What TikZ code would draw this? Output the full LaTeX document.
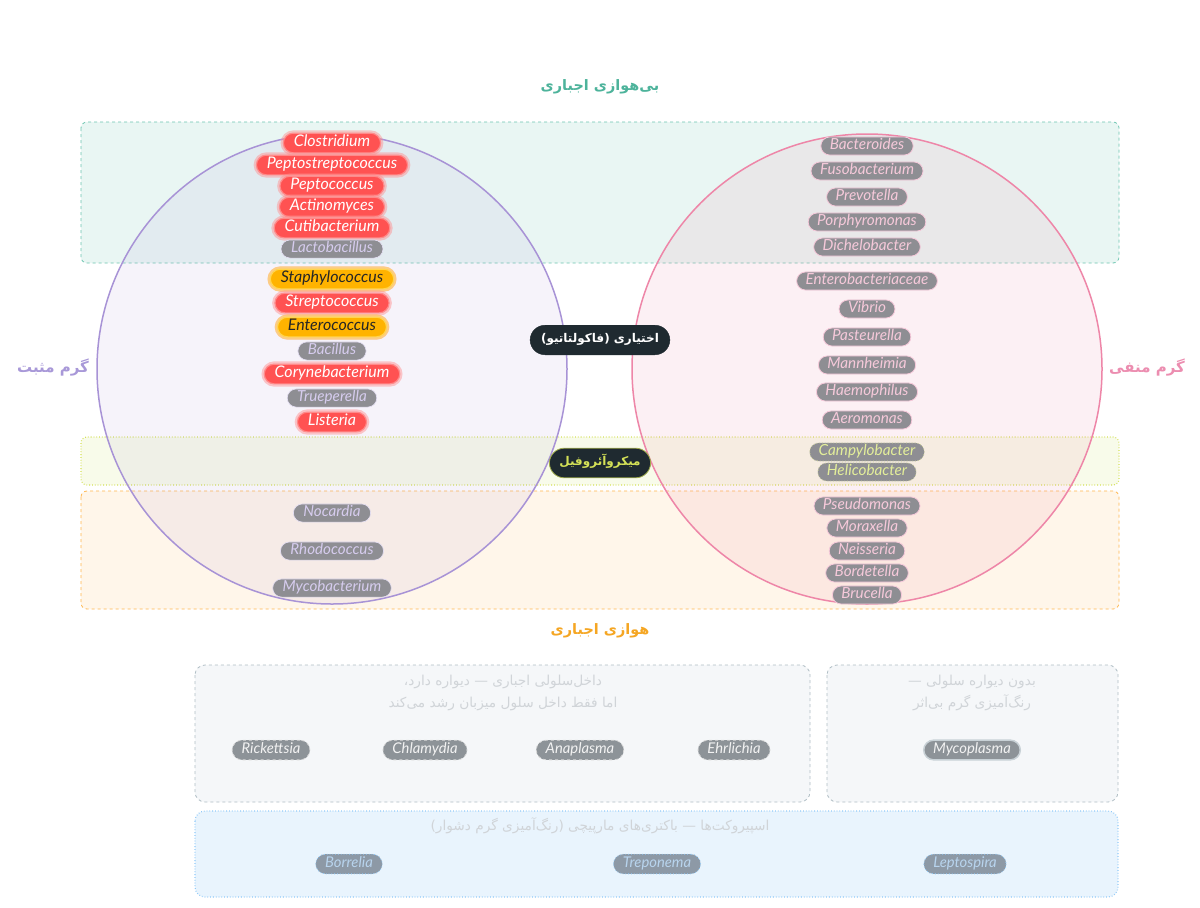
\documentclass[tikz,border=0pt]{standalone}
\usepackage{fontspec}
\TeXXeTstate=1
\setmainfont{Lato}
\newfontfamily\arabicfont[Script=Arabic]{DejaVu Sans}
\definecolor{teal1}{HTML}{6CC5B0}
\definecolor{tealbg}{HTML}{E9F6F3}
\definecolor{tealtxt}{HTML}{4DB39B}
\definecolor{ylw}{HTML}{D4E157}
\definecolor{ylwbg}{HTML}{F8FBEA}
\definecolor{org}{HTML}{FFB74D}
\definecolor{orgbg}{HTML}{FFF6EA}
\definecolor{orgtxt}{HTML}{F5A623}
\definecolor{purp}{HTML}{A893D6}
\definecolor{purptxt}{HTML}{A898D8}
\definecolor{pnk}{HTML}{EE86A8}
\definecolor{pnktxt}{HTML}{EC8DB0}
\definecolor{redp}{HTML}{FF5252}
\definecolor{redglow}{HTML}{FF8A8A}
\definecolor{amb}{HTML}{FFB300}
\definecolor{ambglow}{HTML}{FFD54F}
\definecolor{grayp}{HTML}{8E8E93}
\definecolor{lavtxt}{HTML}{D6CCEE}
\definecolor{pinktxt}{HTML}{F6C9DA}
\definecolor{limetxt}{HTML}{E3EE9A}
\definecolor{darkp}{HTML}{1F2A30}
\definecolor{boxbg}{HTML}{F5F7F9}
\definecolor{boxline}{HTML}{B0BEC5}
\definecolor{bluebg}{HTML}{E9F4FD}
\definecolor{blueline}{HTML}{90CAF9}
\definecolor{bgrayp}{HTML}{8D9398}
\definecolor{spirop}{HTML}{8D99A6}
\definecolor{spirotxt}{HTML}{B8D4EE}
\definecolor{hdrtxt}{HTML}{D0D4D8}
\tikzset{
  x={(1pt,0)}, y={(0,-1pt)},
  pill/.style={rectangle, rounded corners=9pt, inner xsep=9pt, inner ysep=1.8pt,
     text height=10.4pt, text depth=4.1pt, font=\itshape\fontsize{15.3}{17}\selectfont},
  redpill/.style={pill, fill=redp, text=white, draw=redglow, line width=1.2pt, rounded corners=10pt,
     preaction={draw=redglow, line width=5.5pt, opacity=0.45}, font=\itshape\fontsize{16}{18}\selectfont,
     text height=10.9pt, text depth=4.2pt, inner ysep=2.3pt, inner xsep=10.5pt},
  ambpill/.style={redpill, fill=amb, text=black!85, draw=ambglow,
     preaction={draw=ambglow, line width=5.5pt, opacity=0.55}},
  lgray/.style={pill, fill=grayp, text=lavtxt, draw=lavtxt!60, line width=0.6pt, inner xsep=10pt,
     font=\itshape\fontsize{15.2}{17}\selectfont},
  rgray/.style={pill, fill=grayp, text=pinktxt, draw=pinktxt, line width=0.8pt},
  lime/.style={pill, fill=grayp, text=limetxt, draw=limetxt!70!gray, dotted, line width=0.8pt},
  bpill/.style={pill, fill=bgrayp, text=white!90!gray, draw=white!70!gray, dashed, line width=0.8pt,
     font=\itshape\fontsize{14.8}{16}\selectfont, text height=10.1pt, text depth=4pt,
     inner ysep=2.8pt, inner xsep=9.5pt, rounded corners=10pt},
  spill/.style={bpill, fill=spirop, text=spirotxt, draw=blueline, dotted},
  zone/.style={rounded corners=6pt, line width=0.8pt},
  ttl/.style={font=\arabicfont\bfseries\fontsize{14.4}{18}\selectfont},
  darkpill/.style={rectangle, rounded corners=15pt, fill=darkp, inner xsep=11pt, inner ysep=8.3pt,
     text height=9.4pt, text depth=3.6pt, font=\arabicfont\bfseries\fontsize{12}{14}\selectfont},
  hdr/.style={font=\arabicfont\fontsize{13.7}{22}\selectfont, text=hdrtxt, align=center}
}
\begin{document}
\begin{tikzpicture}
\useasboundingbox[fill=white] (0,0) rectangle (1200,908);
% zones
\draw[zone, fill=tealbg, draw=teal1, dashed] (81,122) rectangle (1119,263);
\draw[zone, fill=ylwbg, draw=ylw, dotted, line width=1.1pt] (81,437) rectangle (1119,485);
\draw[zone, fill=orgbg, draw=org, dashed] (81,491) rectangle (1119,609);
% circles
\node[circle, minimum size=470pt, draw=purp, line width=1.5pt, fill=purp, fill opacity=0.1, draw opacity=1] (gp) at (332,369) {};
\node[circle, minimum size=470pt, draw=pnk, line width=1.5pt, fill=pnk, fill opacity=0.12, draw opacity=1] (gn) at (867,369) {};
% titles
\node[ttl, text=tealtxt] (tan) at (600,87) {\beginR بی‌هوازی اجباری\endR};
\node[ttl, text=orgtxt] (tae) at (600,631) {\beginR هوازی اجباری\endR};
\node[ttl, text=purptxt, font=\arabicfont\bfseries\fontsize{15}{18}\selectfont] (tgp) at (53,368) {\beginR گرم مثبت\endR};
\node[ttl, text=pnktxt, font=\arabicfont\bfseries\fontsize{15}{18}\selectfont] (tgn) at (1147,368) {\beginR گرم منفی\endR};
\node[darkpill, text=white, draw=darkp] (fac) at (600,340) {\beginR اختیاری (فاکولتاتیو)\endR};
\node[darkpill, text=ylw, draw=ylw!70!darkp, line width=0.8pt, inner xsep=10pt] (mic) at (600,463) {\beginR میکروآئروفیل\endR};
% left column
\node[redpill] (l1) at (332,143) {Clostridium};
\node[redpill] (l2) at (332,165) {Peptostreptococcus};
\node[redpill] (l3) at (332,186) {Peptococcus};
\node[redpill] (l4) at (332,207) {Actinomyces};
\node[redpill] (l5) at (332,228) {Cutibacterium};
\node[lgray] (l6) at (332,249) {Lactobacillus};
\node[ambpill] (l7) at (332,279) {Staphylococcus};
\node[redpill] (l8) at (332,303) {Streptococcus};
\node[ambpill] (l9) at (332,327) {Enterococcus};
\node[lgray] (l10) at (332,351) {Bacillus};
\node[redpill] (l11) at (332,374) {Corynebacterium};
\node[lgray] (l12) at (332,398) {Trueperella};
\node[redpill] (l13) at (332,422) {Listeria};
\node[lgray] (l14) at (332,513) {Nocardia};
\node[lgray] (l15) at (332,551) {Rhodococcus};
\node[lgray] (l16) at (332,588) {Mycobacterium};
% right column
\node[rgray] (r1) at (867,146) {Bacteroides};
\node[rgray] (r2) at (867,171) {Fusobacterium};
\node[rgray] (r3) at (867,197) {Prevotella};
\node[rgray] (r4) at (867,222) {Porphyromonas};
\node[rgray] (r5) at (867,247) {Dichelobacter};
\node[rgray] (r6) at (867,281) {Enterobacteriaceae};
\node[rgray] (r7) at (867,309) {Vibrio};
\node[rgray] (r8) at (867,337) {Pasteurella};
\node[rgray] (r9) at (867,365) {Mannheimia};
\node[rgray] (r10) at (867,392) {Haemophilus};
\node[rgray] (r11) at (867,420) {Aeromonas};
\node[lime] (r12) at (867,452) {Campylobacter};
\node[lime] (r13) at (867,472) {Helicobacter};
\node[rgray] (r14) at (867,506) {Pseudomonas};
\node[rgray] (r15) at (867,528) {Moraxella};
\node[rgray] (r16) at (867,551) {Neisseria};
\node[rgray] (r17) at (867,573) {Bordetella};
\node[rgray] (r18) at (867,595) {Brucella};
% bottom boxes
\draw[zone, rounded corners=10pt, fill=boxbg, draw=boxline, dashed] (195,665) rectangle (810,802);
\draw[zone, rounded corners=10pt, fill=boxbg, draw=boxline, dashed] (827,665) rectangle (1118,802);
\draw[zone, rounded corners=10pt, fill=bluebg, draw=blueline, dotted, line width=1.1pt] (195,811) rectangle (1118,897);
\node[hdr] (h1) at (503,693) {\beginR داخل‌سلولی اجباری — دیواره دارد،\endR\\\beginR اما فقط داخل سلول میزبان رشد می‌کند\endR};
\node[hdr] (h2) at (972,693) {\beginR بدون دیواره سلولی —\endR\\\beginR رنگ‌آمیزی گرم بی‌اثر\endR};
\node[hdr] (h3) at (600,826) {\beginR اسپیروکت‌ها — باکتری‌های مارپیچی (رنگ‌آمیزی گرم دشوار)\endR};
\node[bpill] (b1) at (271,750) {Rickettsia};
\node[bpill] (b2) at (425,750) {Chlamydia};
\node[bpill] (b3) at (580,750) {Anaplasma};
\node[bpill] (b4) at (734,750) {Ehrlichia};
\node[bpill, solid, draw=boxline!70, line width=1.5pt] (b5) at (972,750) {Mycoplasma};
\node[spill] (s1) at (349,864) {Borrelia};
\node[spill] (s2) at (657,864) {Treponema};
\node[spill] (s3) at (965,864) {Leptospira};
\end{tikzpicture}
\end{document}
